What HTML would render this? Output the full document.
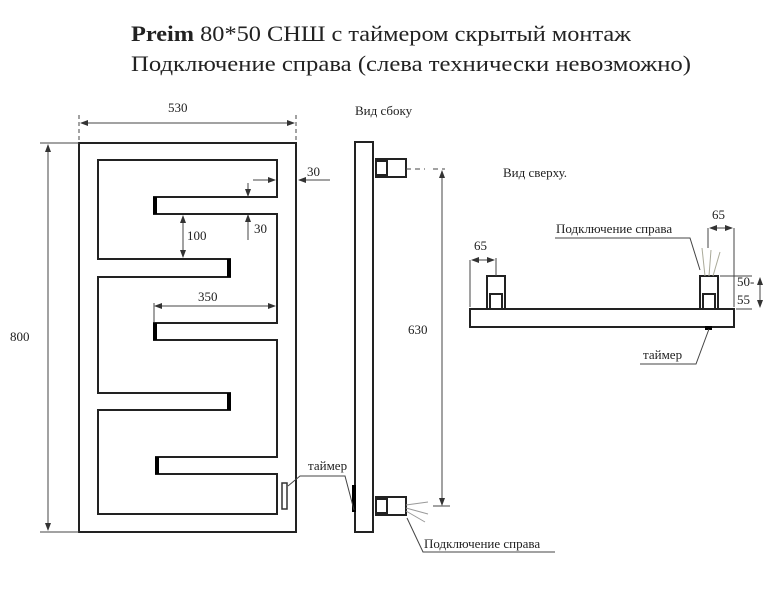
<!DOCTYPE html>
<html><head><meta charset="utf-8"><style>html,body{margin:0;padding:0;background:#fff}svg{display:block}</style></head><body>
<svg width="784" height="600" viewBox="0 0 784 600" xmlns="http://www.w3.org/2000/svg" font-family="Liberation Serif, serif" fill="#222">
<defs><marker id="a" markerWidth="8" markerHeight="6" refX="7" refY="3" orient="auto-start-reverse"><path d="M0,0 L8,3 L0,6z" fill="#333"/></marker></defs>
<text x="131" y="41" font-size="22" textLength="500" lengthAdjust="spacingAndGlyphs"><tspan font-weight="bold">Preim</tspan> 80*50 СНШ с таймером скрытый монтаж</text>
<text x="131" y="71" font-size="22" textLength="560" lengthAdjust="spacingAndGlyphs">Подключение справа (слева технически невозможно)</text>
<g fill="none" stroke="#222" stroke-width="2">
<rect x="79" y="143" width="217" height="389"/>
<path d="M98,160 H277 V197 H154 V214 H277 V323 H154 V340 H277 V457 H156 V474 H277 V514 H98 V410 H230 V393 H98 V277 H230 V259 H98 Z"/>
<rect x="355" y="142" width="18" height="390"/>
<rect x="376" y="159" width="30" height="18"/><rect x="376" y="161" width="11" height="14"/>
<rect x="376" y="497" width="30" height="18"/><rect x="376" y="499" width="11" height="14"/>
<rect x="470" y="309" width="264" height="18"/>
<rect x="487" y="276" width="18" height="33"/><rect x="490" y="294" width="12" height="15"/>
<rect x="700" y="276" width="18" height="33"/><rect x="703" y="294" width="12" height="15"/>
</g>
<g stroke="#000" stroke-width="4">
<path d="M155,197 V214 M155,323 V340 M157,457 V474 M229,259 V277 M229,393 V410"/>
<path d="M354,485 V512 M705,328 H712"/>
</g>
<rect x="282" y="483" width="5" height="26" fill="none" stroke="#333" stroke-width="1.5"/>
<g fill="none" stroke="#444" stroke-width="1">
<path d="M79,140 V115 M296,140 V115" stroke-dasharray="4,3"/>
<path d="M81,123 H294" marker-start="url(#a)" marker-end="url(#a)"/>
<path d="M48,145 V530" marker-start="url(#a)" marker-end="url(#a)"/><path d="M40,143 H79 M40,532 H79"/>
<path d="M253,180 H275" marker-end="url(#a)"/><path d="M330,180 H299" marker-end="url(#a)"/>
<path d="M248,183 V196" marker-end="url(#a)"/><path d="M248,240 V215" marker-end="url(#a)"/>
<path d="M183,216 V257" marker-start="url(#a)" marker-end="url(#a)"/>
<path d="M155,306 H275" marker-start="url(#a)" marker-end="url(#a)"/><path d="M154,303 V322"/>
<path d="M406,169 H425 M433,169 H445" stroke-dasharray="5,4"/>
<path d="M442,171 V505" marker-start="url(#a)" marker-end="url(#a)"/><path d="M433,506 H450"/>
<path d="M288,486 L300,476 H345 L354,510"/>
<path d="M407,518 L423,552 H555"/>
<path d="M406,505 L428,502 M406,508 L428,514 M406,511 L425,522" stroke="#999"/>
<path d="M470,307 V260 M496,276 V258 M472,260 H494" /><path d="M472,260 H494" marker-start="url(#a)" marker-end="url(#a)"/>
<path d="M734,307 V228 M708,228 V248"/><path d="M710,228 H732" marker-start="url(#a)" marker-end="url(#a)"/>
<path d="M720,276 H752 M736,309 H752"/><path d="M760,278 V307" marker-start="url(#a)" marker-end="url(#a)"/>
<path d="M555,238 H690 L700,270"/>
<path d="M705,276 L702,248 M709,276 L711,250 M713,276 L720,252" stroke="#aa9"/>
<path d="M709,329 L696,364 H640"/>
</g>
<g font-size="13">
<text x="168" y="112">530</text>
<text x="10" y="341">800</text>
<text x="307" y="176">30</text>
<text x="254" y="233">30</text>
<text x="187" y="240">100</text>
<text x="198" y="301">350</text>
<text x="355" y="115">Вид сбоку</text>
<text x="408" y="334">630</text>
<text x="308" y="470">таймер</text>
<text x="424" y="548">Подключение справа</text>
<text x="503" y="177">Вид сверху.</text>
<text x="474" y="250">65</text>
<text x="712" y="219">65</text>
<text x="556" y="233">Подключение справа</text>
<text x="737" y="286">50-</text>
<text x="737" y="304">55</text>
<text x="643" y="359">таймер</text>
</g>
</svg>
</body></html>
